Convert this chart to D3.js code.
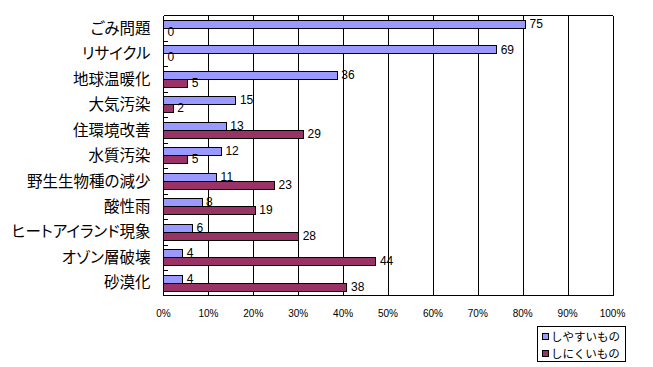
<!DOCTYPE html>
<html><head><meta charset="utf-8">
<script src="https://cdn.jsdelivr.net/npm/d3@7"></script>
<style>
html,body{margin:0;padding:0;background:#fff;}
svg{display:block;}
.cjk{font-feature-settings:"palt" 1;}
</style>
</head><body>
<svg id="c" width="653" height="367"></svg>
<script>
const categories = ["ごみ問題","リサイクル","地球温暖化","大気汚染","住環境改善","水質汚染","野生生物種の減少","酸性雨","ヒートアイランド現象","オゾン層破壊","砂漠化"];
const easyValues = [75,69,36,15,13,12,11,8,6,4,4];
const hardValues = [0,0,5,2,29,5,23,19,28,44,38];
const respondents = 93;
const seriesNames = ["しやすいもの","しにくいもの"];
const seriesColors = ["#9999FF","#993366"];
const xTicks = [0,10,20,30,40,50,60,70,80,90,100];

(function(){
const svg = d3.select("#c");
const pLeft = 163.5, pRight = 612.5, pTop = 15.5, pBottom = 295.5;

const x = d3.scaleLinear().domain([0,100]).range([pLeft,pRight]);
const y = d3.scaleBand().domain(categories).range([pTop,pBottom]).padding(0);
const keys = ["easy","hard"];
const sub = d3.scaleBand().domain(keys).range([0,y.bandwidth()]).paddingOuter(0.6).paddingInner(0);

const rows = categories.map((c,i)=>({cat:c, easy:easyValues[i], hard:hardValues[i]}));

svg.append("g").selectAll("line").data(xTicks.slice(1)).join("line")
  .attr("x1",d=>Math.round(x(d))+0.5).attr("x2",d=>Math.round(x(d))+0.5)
  .attr("y1",pTop).attr("y2",pBottom)
  .attr("stroke","#000").attr("stroke-width",1).attr("shape-rendering","crispEdges");
svg.append("line").attr("x1",pLeft).attr("x2",pRight).attr("y1",pTop).attr("y2",pTop)
  .attr("stroke","#000").attr("shape-rendering","crispEdges");

const g = svg.append("g").selectAll("g").data(rows).join("g")
  .attr("transform",d=>`translate(0,${y(d.cat)})`);
keys.forEach((k,ki)=>{
  g.append("rect")
    .attr("x",pLeft)
    .attr("y",d=>Math.round(sub(k)))
    .attr("width",d=>x(d[k]/respondents*100)-pLeft)
    .attr("height",Math.round(sub.bandwidth()))
    .attr("fill",seriesColors[ki])
    .attr("stroke","#000").attr("stroke-width",1)
    .attr("shape-rendering","crispEdges");
  g.append("text")
    .attr("x",d=>x(d[k]/respondents*100)+4)
    .attr("y",d=>sub(k)+sub.bandwidth()/2)
    .attr("dy","0.32em")
    .attr("font-family","'Liberation Sans', Arial, sans-serif")
    .attr("font-size",12)
    .attr("fill","#000")
    .text(d=>d[k]);
});

svg.append("line").attr("x1",pLeft).attr("x2",pLeft).attr("y1",pTop).attr("y2",pBottom)
  .attr("stroke","#000").attr("shape-rendering","crispEdges");
svg.append("line").attr("x1",pLeft).attr("x2",pRight).attr("y1",pBottom).attr("y2",pBottom)
  .attr("stroke","#000").attr("shape-rendering","crispEdges");

svg.append("g").selectAll("line").data(categories.slice(1)).join("line")
  .attr("x1",pLeft).attr("x2",pLeft+4)
  .attr("y1",d=>Math.round(y(d))+0.5).attr("y2",d=>Math.round(y(d))+0.5)
  .attr("stroke","#000").attr("shape-rendering","crispEdges");

svg.append("g").selectAll("text").data(categories).join("text")
  .attr("class","cjk")
  .attr("x",pLeft-13)
  .attr("y",d=>y(d)+y.bandwidth()/2)
  .attr("dy","0.36em")
  .attr("text-anchor","end")
  .attr("font-family","'Noto Sans CJK JP', sans-serif")
  .attr("font-size",15.5)
  .attr("fill","#000")
  .text(d=>d);

svg.append("g").selectAll("text").data(xTicks).join("text")
  .attr("x",d=>x(d))
  .attr("y",317)
  .attr("text-anchor","middle")
  .attr("font-family","'Liberation Sans', Arial, sans-serif")
  .attr("font-size",10)
  .attr("fill","#000")
  .text(d=>d+"%");

const lg = svg.append("g");
lg.append("rect").attr("x",537.5).attr("y",326.5).attr("width",88).attr("height",35)
  .attr("fill","#fff").attr("stroke","#000").attr("shape-rendering","crispEdges");
seriesNames.forEach((n,i)=>{
  const cy = 337 + i*16.5;
  lg.append("rect").attr("x",542.5).attr("y",cy-3.5).attr("width",6).attr("height",6)
    .attr("fill",seriesColors[i]).attr("stroke","#000").attr("shape-rendering","crispEdges");
  lg.append("text").attr("x",551).attr("y",cy).attr("dy","0.36em")
    .attr("font-family","'Noto Sans CJK JP', sans-serif").attr("font-size",11.5)
    .attr("fill","#000").text(n);
});
})();
</script>
</body></html>
